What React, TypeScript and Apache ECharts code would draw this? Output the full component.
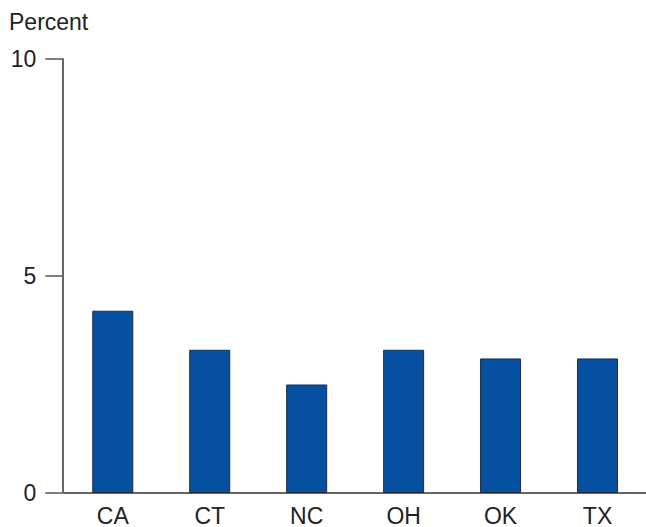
import React, { useEffect, useRef } from "react";
import * as echarts from "echarts";

const categories = ["CA", "CT", "NC", "OH", "OK", "TX"];
const values = [4.2, 3.3, 2.5, 3.3, 3.1, 3.1];
const yTicks = [0, 5, 10];
const axisTitle = "Percent";

export default function App() {
  const ref = useRef<HTMLDivElement>(null);
  useEffect(() => {
    if (!ref.current) return;
    const chart = echarts.init(ref.current, null, { renderer: "svg" });
    const font = "Liberation Sans, Arial, Helvetica, sans-serif";
    chart.setOption({
      animation: false,
      backgroundColor: "#ffffff",
      textStyle: { fontFamily: font },
      grid: { left: 64.3, right: -8.7, top: 59, bottom: 34, containLabel: false },
      graphic: [
        {
          type: "text",
          left: 9,
          top: 10,
          style: { text: axisTitle, fontSize: 23, fill: "#222", fontFamily: font },
        },
      ],
      xAxis: {
        type: "category",
        data: categories,
        axisLine: { show: true, lineStyle: { color: "#666", width: 2 } },
        axisTick: { show: false },
        axisLabel: { color: "#222", fontSize: 23, margin: 11, fontFamily: font },
        splitLine: { show: false },
      },
      yAxis: {
        type: "value",
        min: yTicks[0],
        max: yTicks[yTicks.length - 1],
        interval: 5,
        offset: 2,
        axisLine: { show: true, lineStyle: { color: "#666", width: 2 } },
        axisTick: { show: true, length: 17, lineStyle: { color: "#555", width: 1.5 } },
        axisLabel: { color: "#222", fontSize: 23, margin: 26, fontFamily: font },
        splitLine: { show: false },
      },
      series: [
        {
          type: "bar",
          data: values,
          barWidth: 41,
          itemStyle: { color: "#0650a2", borderColor: "#2a2a2a", borderWidth: 1 },
        },
      ],
    });
    return () => chart.dispose();
  }, []);
  return (
    <div
      ref={ref}
      style={{ position: "fixed", left: 0, top: 0, width: 646, height: 527 }}
    />
  );
}
